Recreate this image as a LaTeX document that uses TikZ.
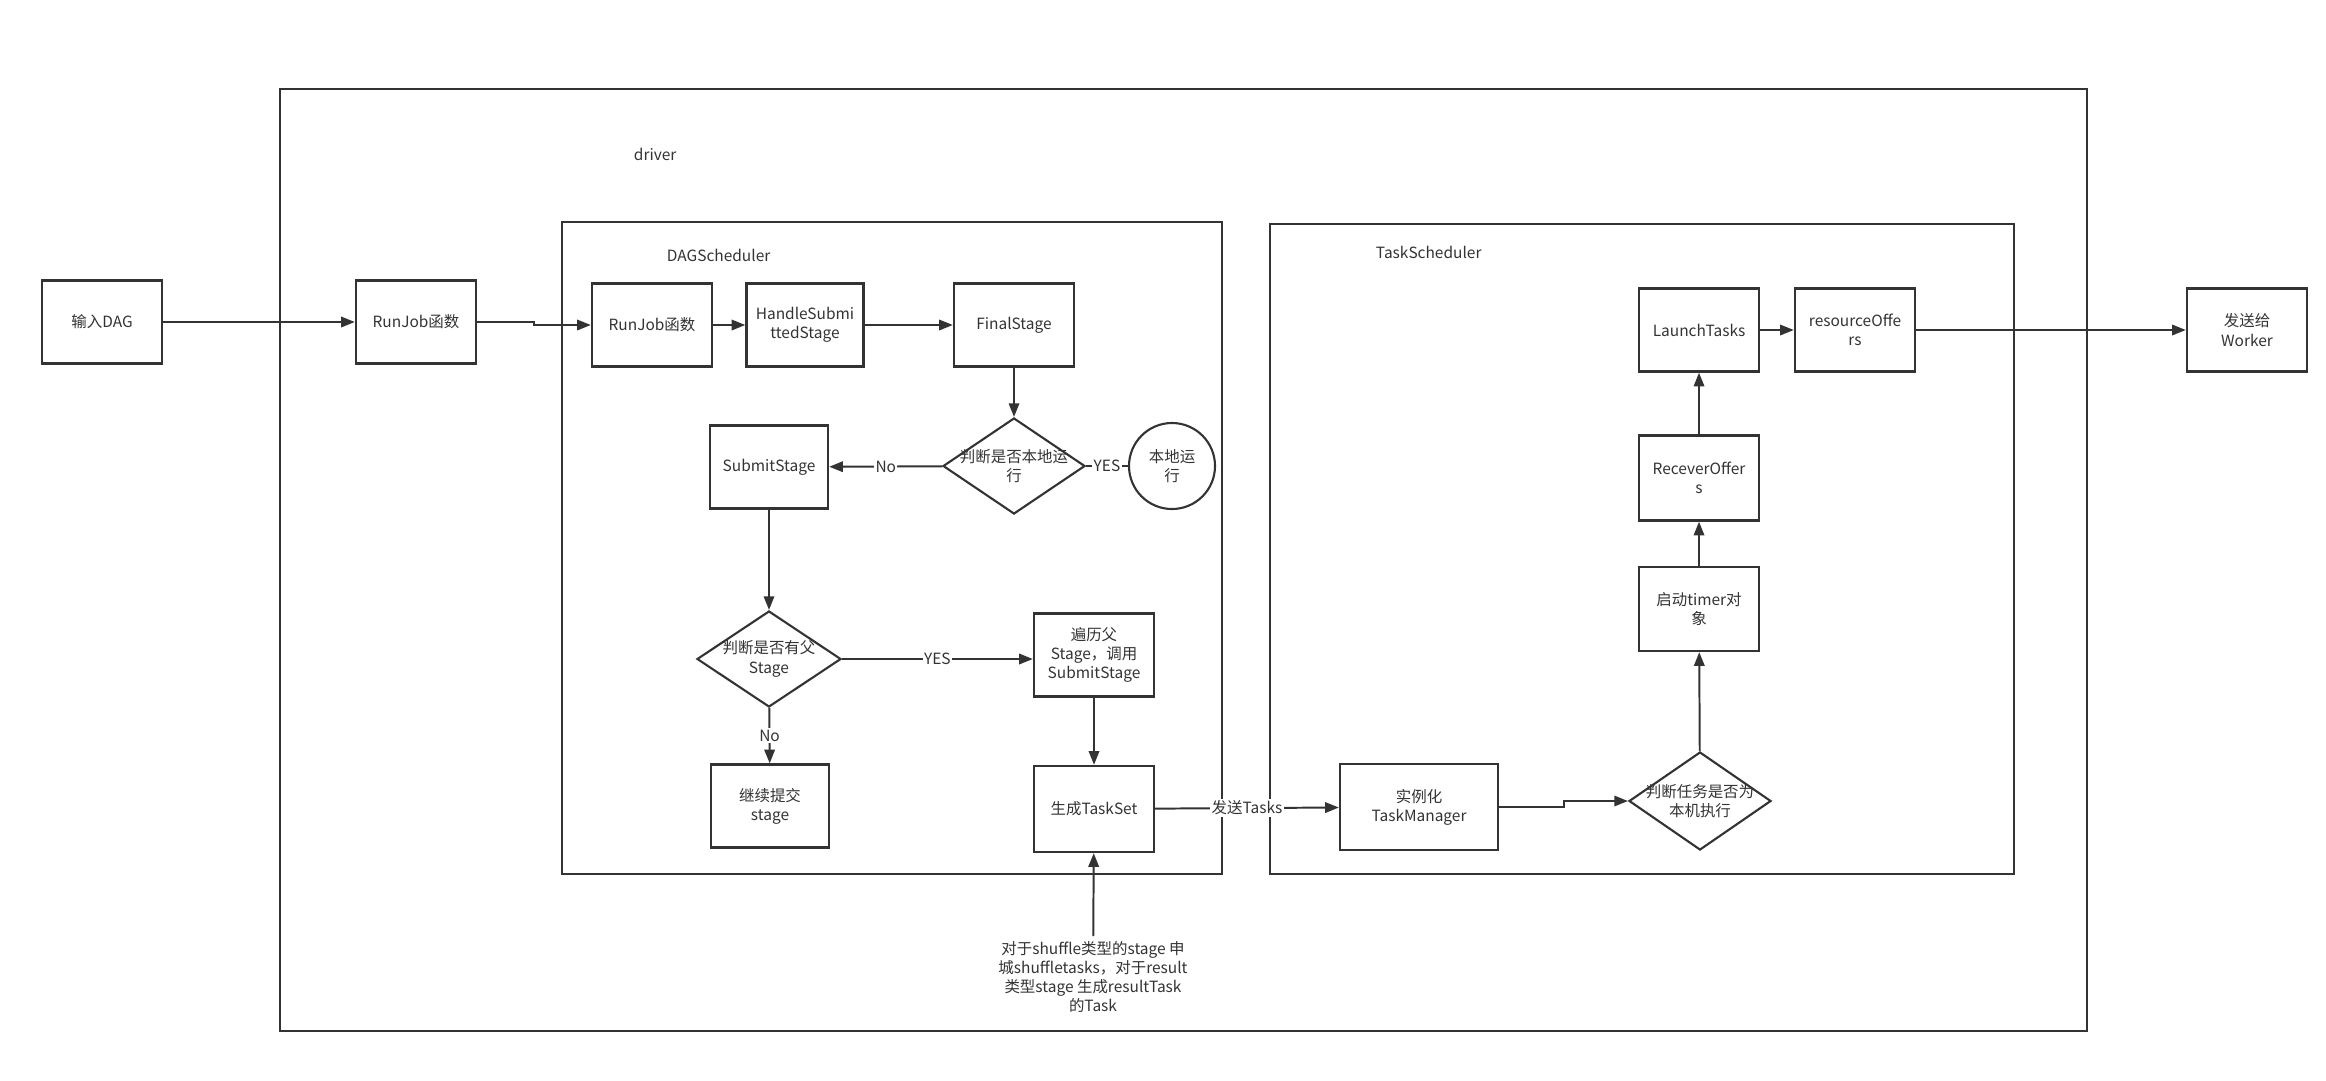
\documentclass[tikz,border=0pt]{standalone}
\usepackage{fontspec}
\setmainfont{Noto Sans CJK SC}
\usetikzlibrary{shapes.geometric,arrows.meta}
\definecolor{ink}{HTML}{333333}

\begin{document}
\begin{tikzpicture}[x=0.025cm, y=-0.025cm,
  every node/.style={font=\fontsize{11}{13.7}\selectfont, text=ink, align=center},
  box/.style={draw=ink, line width=1.7pt, minimum width=3cm, minimum height=2.075cm, inner sep=1pt},
  decision/.style={draw=ink, line width=1.5pt, diamond, minimum width=3.55cm, minimum height=2.4cm, inner sep=-10pt},
  arr/.style={draw=ink, line width=1.4pt, -{Triangle[length=3.4mm,width=2.6mm]}},
  link/.style={draw=ink, line width=1.4pt},
  lbl/.style={fill=white, inner sep=1pt}]
  \useasboundingbox (0,0) rectangle (2326,1080);

  \draw[ink, line width=1.3pt] (280,89) rectangle (2087,1031);
  \draw[ink, line width=1.3pt] (562,222) rectangle (1222,874);
  \draw[ink, line width=1.3pt] (1270,224) rectangle (2014,874);
  \node[anchor=west] (drv) at (629,154) {driver};
  \node[anchor=west] (dags) at (662,255) {DAGScheduler};
  \node[anchor=west] (tasks) at (1371,252) {TaskScheduler};

  \node[box] (dag) at (102,322) {输入DAG};
  \node[box] (rj1) at (416,322) {RunJob函数};
  \node[box] (rj2) at (652,325) {RunJob函数};
  \node[box, minimum width=2.925cm] (hss) at (805,325) {HandleSubmi\\ttedStage};
  \node[box] (fs) at (1014,325) {FinalStage};
  \node[decision] (d1) at (1014,466) {判断是否本地运\\行};
  \node[draw=ink, line width=1.5pt, circle, minimum size=2.15cm, inner sep=0pt] (loc) at (1172,466) {本地运\\行};
  \node[box, minimum width=2.95cm] (ss) at (769,467) {SubmitStage};
  \node[decision, minimum width=3.6cm, minimum height=2.4cm] (d2) at (769,659) {判断是否有父\\Stage};
  \node[box] (trav) at (1094,655) {遍历父\\Stage，调用\\SubmitStage};
  \node[box, minimum width=2.95cm] (cont) at (770,806) {继续提交\\stage};
  \node[box, minimum height=2.15cm] (tset) at (1094,809) {生成TaskSet};
  \node (note) at (1093,977) {对于shuffle类型的stage 申\\城shuffletasks，对于result\\类型stage 生成resultTask\\的Task};

  \node[box, minimum width=3.95cm, minimum height=2.15cm] (tm) at (1419,807) {实例化\\TaskManager};
  \node[decision, minimum height=2.45cm] (d3) at (1700,801) {判断任务是否为\\本机执行};
  \node[box, minimum height=2.1cm] (timer) at (1699,609) {启动timer对\\象};
  \node[box, minimum height=2.125cm] (recv) at (1699,478) {ReceverOffer\\s};
  \node[box] (launch) at (1699,330) {LaunchTasks};
  \node[box] (res) at (1855,330) {resourceOffe\\rs};
  \node[box] (worker) at (2247,330) {发送给\\Worker};

  \draw[arr] (dag) -- (rj1);
  \draw[arr] (rj1.east) -- ++(57,0) |- (rj2.west);
  \draw[arr] (rj2) -- (hss);
  \draw[arr] (hss) -- (fs);
  \draw[arr] (fs) -- (d1);
  \draw[arr] (d1) -- node[lbl] {No} (ss);
  \draw[link] (d1) -- node[lbl] {YES} (loc);
  \draw[arr] (ss) -- (d2);
  \draw[arr] (d2.east) -- node[lbl] {YES} (d2.east -| trav.west);
  \draw[arr] (d2) -- node[lbl] {No} (cont);
  \draw[arr] (trav) -- (tset);
  \draw[arr] (note) -- (tset);
  \draw[arr] (tset) -- node[lbl] {发送Tasks} (tm);
  \draw[arr] (tm.east) -- ++(65,0) |- (d3.west);
  \draw[arr] (d3) -- (timer);
  \draw[arr] (timer) -- (recv);
  \draw[arr] (recv) -- (launch);
  \draw[arr] (launch) -- (res);
  \draw[arr] (res) -- (worker);
\end{tikzpicture}
\end{document}
